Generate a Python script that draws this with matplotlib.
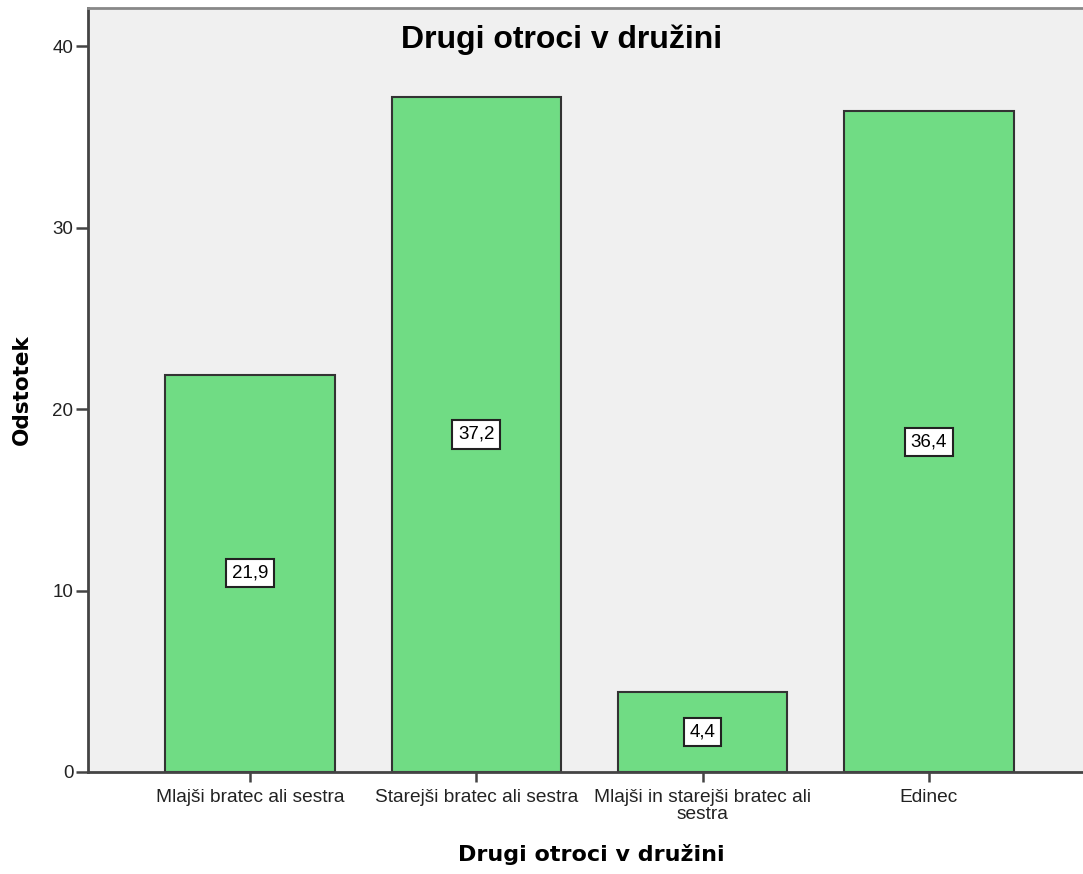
import matplotlib.pyplot as plt
import numpy as np

# Podatki
kategorije = ["Mlajši bratec ali sestra", "Starejši bratec ali sestra",
              "Mlajši in starejši bratec ali\nsestra", "Edinec"]
odstotki = [21.9, 37.2, 4.4, 36.4]
oznake = ["21,9", "37,2", "4,4", "36,4"]

plt.rcParams['font.family'] = ['Liberation Sans', 'DejaVu Sans']

fig = plt.figure(figsize=(10.83, 8.74), dpi=100)
ax = fig.add_axes([88 / 1083, 102 / 874, 1.0 - 88 / 1083 + 0.01, 764 / 874])
ax.set_facecolor("#F0F0F0")

x = np.arange(len(kategorije))
bars = ax.bar(x, odstotki, width=0.75, color="#70DC84", edgecolor="#333333", linewidth=1.5)

for b, val, lab in zip(bars, odstotki, oznake):
    ax.text(b.get_x() + b.get_width() / 2, val / 2, lab, ha="center", va="center",
            fontsize=13.5, bbox=dict(boxstyle="square,pad=0.3", fc="white", ec="#222222", lw=1.5))

ax.set_xlim(-0.717, 3.73)
ax.set_ylim(0, 42.1)
ax.set_yticks([0, 10, 20, 30, 40])
ax.set_xticks(x)
ax.set_xticklabels(kategorije, fontsize=13.8, linespacing=0.95)
ax.tick_params(axis="both", direction="out", width=1.8, color="#444444", labelcolor="#222222")
ax.tick_params(axis="y", labelsize=13.5, pad=1.5, length=9)
ax.tick_params(axis="x", pad=5, length=7.5)

for s in ["left", "bottom"]:
    ax.spines[s].set_color("#444444")
    ax.spines[s].set_linewidth(2)
ax.spines["top"].set_color("#888888")
ax.spines["top"].set_linewidth(2)
ax.spines["right"].set_visible(False)

ax.set_ylabel("Odstotek", fontsize=15.5, fontweight="bold", family="DejaVu Sans", labelpad=15)
ax.set_xlabel("Drugi otroci v družini", fontsize=16, fontweight="bold", family="DejaVu Sans", labelpad=15)
fig.text(562 / 1083, 1 - 48 / 874, "Drugi otroci v družini", ha="center", va="baseline",
         fontsize=23, fontweight="bold")

fig.savefig("out.png", dpi=100)
